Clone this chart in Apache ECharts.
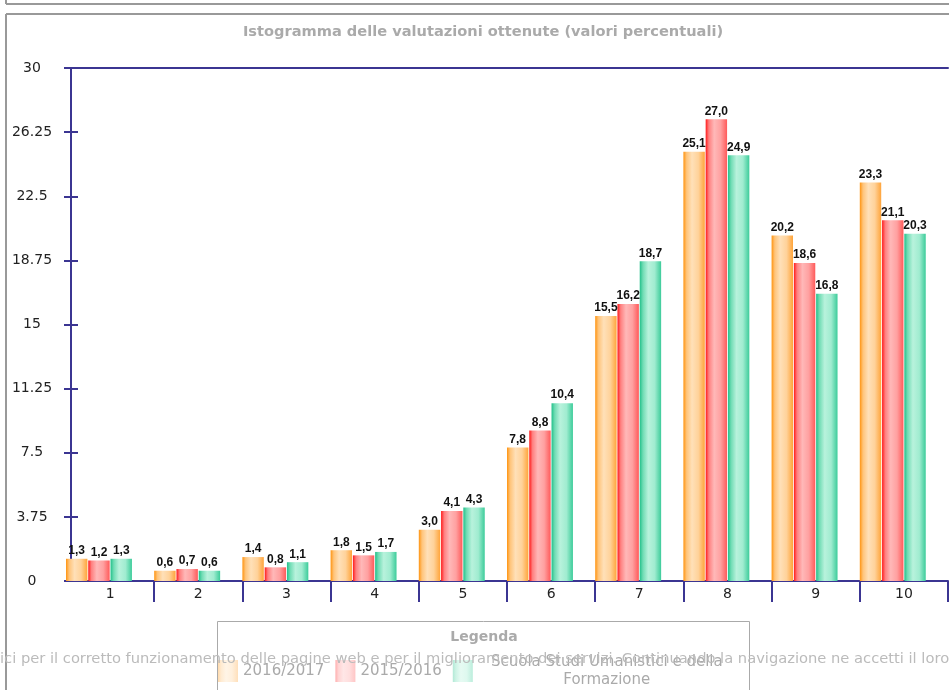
<!DOCTYPE html>
<html>
<head>
<meta charset="utf-8">
<style>
  html, body { margin: 0; padding: 0; background: #fff; }
  #chart { width: 949px; height: 690px; }
</style>
<script src="https://cdn.jsdelivr.net/npm/echarts@6/dist/echarts.min.js"></script>
</head>
<body>
<div id="chart"></div>
<script>
// valutazioni 1..10, valori percentuali
const categories = ['1', '2', '3', '4', '5', '6', '7', '8', '9', '10']
const yTicks     = { min: 0, max: 30, interval: 3.75 }

const names = ['2016/2017', '2015/2016', 'Scuola Studi Umanistici e della Formazione']
const anno1617 = [1.3, 0.6, 1.4, 1.8, 3.0, 7.8, 15.5, 25.1, 20.2, 23.3]
const anno1516 = [1.2, 0.7, 0.8, 1.5, 4.1, 8.8, 16.2, 27.0, 18.6, 21.1]
const scuola   = [1.3, 0.6, 1.1, 1.7, 4.3, 10.4, 18.7, 24.9, 16.8, 20.3]

const axisColor = '#3b3592'
const grad = (stops) => new echarts.graphic.LinearGradient(0, 0, 1, 0,
  stops.map((c, i) => ({ offset: [0, 0.15, 0.4, 0.7, 1][i], color: c })))

const colors = [
  grad(['#ff9410', '#ffc47a', '#ffe0b8', '#ffd29a', '#ffa43a']),
  grad(['#ff1a1a', '#ff8080', '#ffb8b8', '#ffa0a0', '#ff5a5a']),
  grad(['#22c08a', '#70dcb4', '#b8f2dc', '#a0ecd0', '#3ccc9a']),
]

const fmt = v => v.toFixed(1).replace('.', ',')

function barSeries(name, data, color) {
  return {
    name,
    type: 'bar',
    data,
    barGap: '4%',
    barCategoryGap: '0%',
    itemStyle: { color },
    label: {
      show: true,
      position: 'top',
      distance: 2,
      formatter: p => fmt(p.value),
      color: '#111',
      fontSize: 12,
      fontWeight: 'bold',
      fontFamily: '"Liberation Sans Narrow", "Arial Narrow", sans-serif',
    },
  }
}

const chart = echarts.init(document.getElementById('chart'))
chart.setOption({
  animation: false,
  grid: { left: 66, right: 1, top: 68, bottom: 109 },
  legend: {
    data: names,
    left: 213,
    top: 648,
    icon: 'rect',
    itemWidth: 20,
    itemHeight: 22,
    itemGap: 11,
    itemStyle: { opacity: 0.35 },
    formatter: n => n === names[2] ? '{s|Scuola Studi Umanistici e della}\n{s|Formazione}' : n,
    textStyle: {
      color: '#aaa', fontSize: 15, fontFamily: 'DejaVu Sans', lineHeight: 18,
      rich: { s: { width: 258, align: 'center', color: '#aaa', fontSize: 15, fontFamily: 'DejaVu Sans', lineHeight: 18 } },
    },
  },
  xAxis: [
    {
      type: 'category',
      data: categories,
      axisLine: { lineStyle: { color: axisColor, width: 2 } },
      axisTick: { show: true, length: 21, interval: i => i !== 0, lineStyle: { color: axisColor, width: 2 } },
      axisLabel: { color: '#222', fontSize: 14, fontFamily: 'DejaVu Sans', margin: 6 },
    },
    {
      type: 'category',
      position: 'top',
      data: categories,
      axisLine: { show: true, onZero: false, lineStyle: { color: axisColor, width: 2 } },
      axisTick: { show: false },
      axisLabel: { show: false },
    },
  ],
  yAxis: [
    {
      type: 'value',
      ...yTicks,
      offset: -5,
      axisLine: { show: true, lineStyle: { color: axisColor, width: 2 } },
      axisTick: { show: true, length: 7, lineStyle: { color: axisColor, width: 2 } },
      axisLabel: { color: '#222', fontSize: 14, fontFamily: 'DejaVu Sans', align: 'center', margin: 39 },
      splitLine: { show: false },
    },
    {
      type: 'value',
      position: 'left',
      ...yTicks,
      offset: -5,
      axisLine: { show: true, lineStyle: { color: axisColor, width: 2 } },
      axisTick: { show: true, inside: true, length: 7, lineStyle: { color: axisColor, width: 2 } },
      axisLabel: { show: false },
      splitLine: { show: false },
    },
  ],
  series: [
    barSeries(names[0], anno1617, colors[0]),
    barSeries(names[1], anno1516, colors[1]),
    barSeries(names[2], scuola, colors[2]),
    // slot vuoto: i gruppi di barre partono dal bordo sinistro della categoria
    { name: '', type: 'bar', data: categories.map(() => null), barGap: '4%', barCategoryGap: '0%', silent: true },
  ],
  graphic: [
    // cornici della pagina
    { type: 'line', shape: { x1: 6, y1: 0, x2: 6, y2: 4 }, style: { stroke: '#999', lineWidth: 2 } },
    { type: 'line', shape: { x1: 6, y1: 4, x2: 949, y2: 4 }, style: { stroke: '#999', lineWidth: 2 } },
    { type: 'line', shape: { x1: 6, y1: 14, x2: 949, y2: 14 }, style: { stroke: '#999', lineWidth: 2 } },
    { type: 'line', shape: { x1: 6, y1: 14, x2: 6, y2: 690 }, style: { stroke: '#999', lineWidth: 2 } },
    {
      type: 'text', x: 483, y: 32,
      style: {
        text: 'Istogramma delle valutazioni ottenute (valori percentuali)',
        fill: '#aaa', font: 'bold 14.6px "DejaVu Sans"', textAlign: 'center', textVerticalAlign: 'middle',
      },
    },
    // riquadro legenda
    { type: 'rect', shape: { x: 217.5, y: 621.5, width: 532, height: 80 }, style: { fill: 'none', stroke: '#aaa', lineWidth: 1 } },
    {
      type: 'text', x: 484, y: 637,
      style: { text: 'Legenda', fill: '#aaa', font: 'bold 14px "DejaVu Sans"', textAlign: 'center', textVerticalAlign: 'middle' },
    },
    // banner cookie sovrapposto
    {
      type: 'text', x: 0, y: 659, z: 100,
      style: {
        text: 'ici per il corretto funzionamento delle pagine web e per il miglioramento dei servizi. Continuando la navigazione ne accetti il loro',
        fill: '#bbb', font: '14.7px "DejaVu Sans"', textVerticalAlign: 'middle',
      },
    },
  ],
})
</script>
</body>
</html>
